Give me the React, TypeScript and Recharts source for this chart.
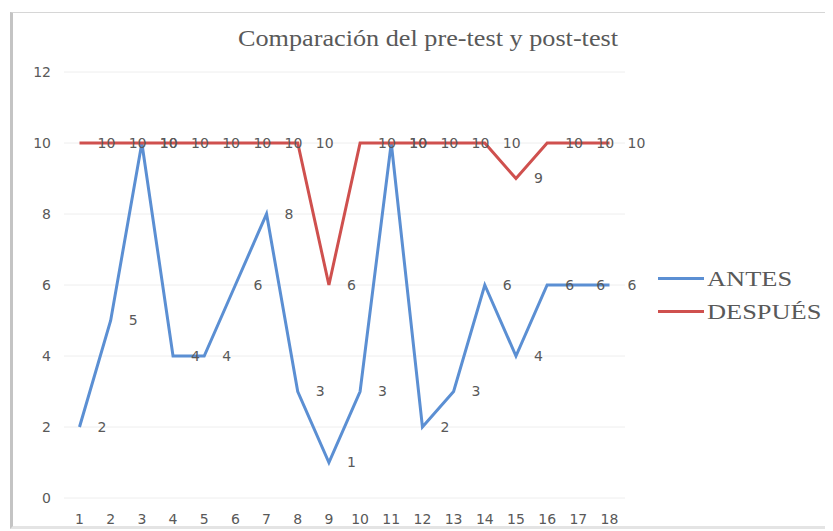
import { LineChart, Line, XAxis, YAxis, CartesianGrid, LabelList } from 'recharts';

const categories = ['1', '2', '3', '4', '5', '6', '7', '8', '9', '10', '11', '12', '13', '14', '15', '16', '17', '18'];
const antes = [2, 5, 10, 4, 4, 6, 8, 3, 1, 3, 10, 2, 3, 6, 4, 6, 6, 6];
const despues = [10, 10, 10, 10, 10, 10, 10, 10, 6, 10, 10, 10, 10, 10, 9, 10, 10, 10];
const yTicks = [0, 2, 4, 6, 8, 10, 12];

const BLUE = '#5b8fd3';
const RED = '#cf504e';
const TEXT = '#595959';
const SANS = '"DejaVu Sans", sans-serif';
const SERIF = '"Liberation Serif", "DejaVu Serif", serif';

const data = categories.map((c, i) => ({ name: c, ANTES: antes[i], DESPUES: despues[i] }));

// legend drawn by hand, on the right of the plot
function LegendBox() {
  const rows = [
    { label: 'ANTES', color: BLUE },
    { label: 'DESPUÉS', color: RED },
  ];
  return (
    <div style={{ position: 'absolute', left: 645, top: 249 }}>
      {rows.map((r) => (
        <div key={r.label} style={{ display: 'flex', alignItems: 'center', height: 33 }}>
          <div style={{ width: 46, height: 3, background: r.color, marginRight: 3 }} />
          <span
            style={{
              fontFamily: SERIF,
              fontSize: 22,
              color: TEXT,
              display: 'inline-block',
              transform: 'scaleX(1.2)',
              transformOrigin: 'left center',
            }}
          >
            {r.label}
          </span>
        </div>
      ))}
    </div>
  );
}

export default function App() {
  return (
    <div
      style={{
        position: 'relative',
        marginLeft: 2,
        marginTop: 4,
        width: 818,
        height: 517,
        background: '#fff',
        borderTop: '1px solid #d6d6d6',
        borderLeft: '3px solid #c4c4c4',
        borderRight: '3px solid #e4e4e4',
        borderBottom: '3px solid #e4e4e4',
        boxSizing: 'border-box',
      }}
    >
      <div
        style={{
          position: 'absolute',
          top: 13,
          left: 0,
          width: 830,
          textAlign: 'center',
          fontFamily: SERIF,
          fontSize: 23,
          color: TEXT,
          transform: 'scaleX(1.14)',
        }}
      >
        Comparación del pre-test y post-test
      </div>
      <LineChart
        width={812}
        height={513}
        data={data}
        margin={{ top: 59, right: 200, left: 0, bottom: 0 }}
        style={{ position: 'absolute', left: 0, top: 0 }}
      >
        <CartesianGrid horizontal vertical={false} stroke="#eeeeee" />
        <XAxis
          dataKey="name"
          padding={{ left: 15.5, right: 15.5 }}
          axisLine={false}
          tickLine={false}
          tickSize={0}
          tickMargin={16}
          height={28}
          interval={0}
          tick={{ fontSize: 14, fill: TEXT, fontFamily: SANS }}
        />
        <YAxis
          domain={[0, 12]}
          ticks={yTicks}
          axisLine={false}
          tickLine={false}
          tickSize={0}
          tickMargin={13}
          width={51}
          tick={{ fontSize: 14, fill: TEXT, fontFamily: SANS }}
        />
        <Line
          type="linear"
          dataKey="ANTES"
          stroke={BLUE}
          strokeWidth={3}
          dot={false}
          isAnimationActive={false}
        >
          <LabelList dataKey="ANTES" position="right" offset={18} fill={TEXT} fontSize={14} fontFamily={SANS} />
        </Line>
        <Line
          type="linear"
          dataKey="DESPUES"
          name="DESPUÉS"
          stroke={RED}
          strokeWidth={3}
          dot={false}
          isAnimationActive={false}
        >
          <LabelList dataKey="DESPUES" position="right" offset={18} fill={TEXT} fontSize={14} fontFamily={SANS} />
        </Line>
      </LineChart>
      <LegendBox />
    </div>
  );
}
